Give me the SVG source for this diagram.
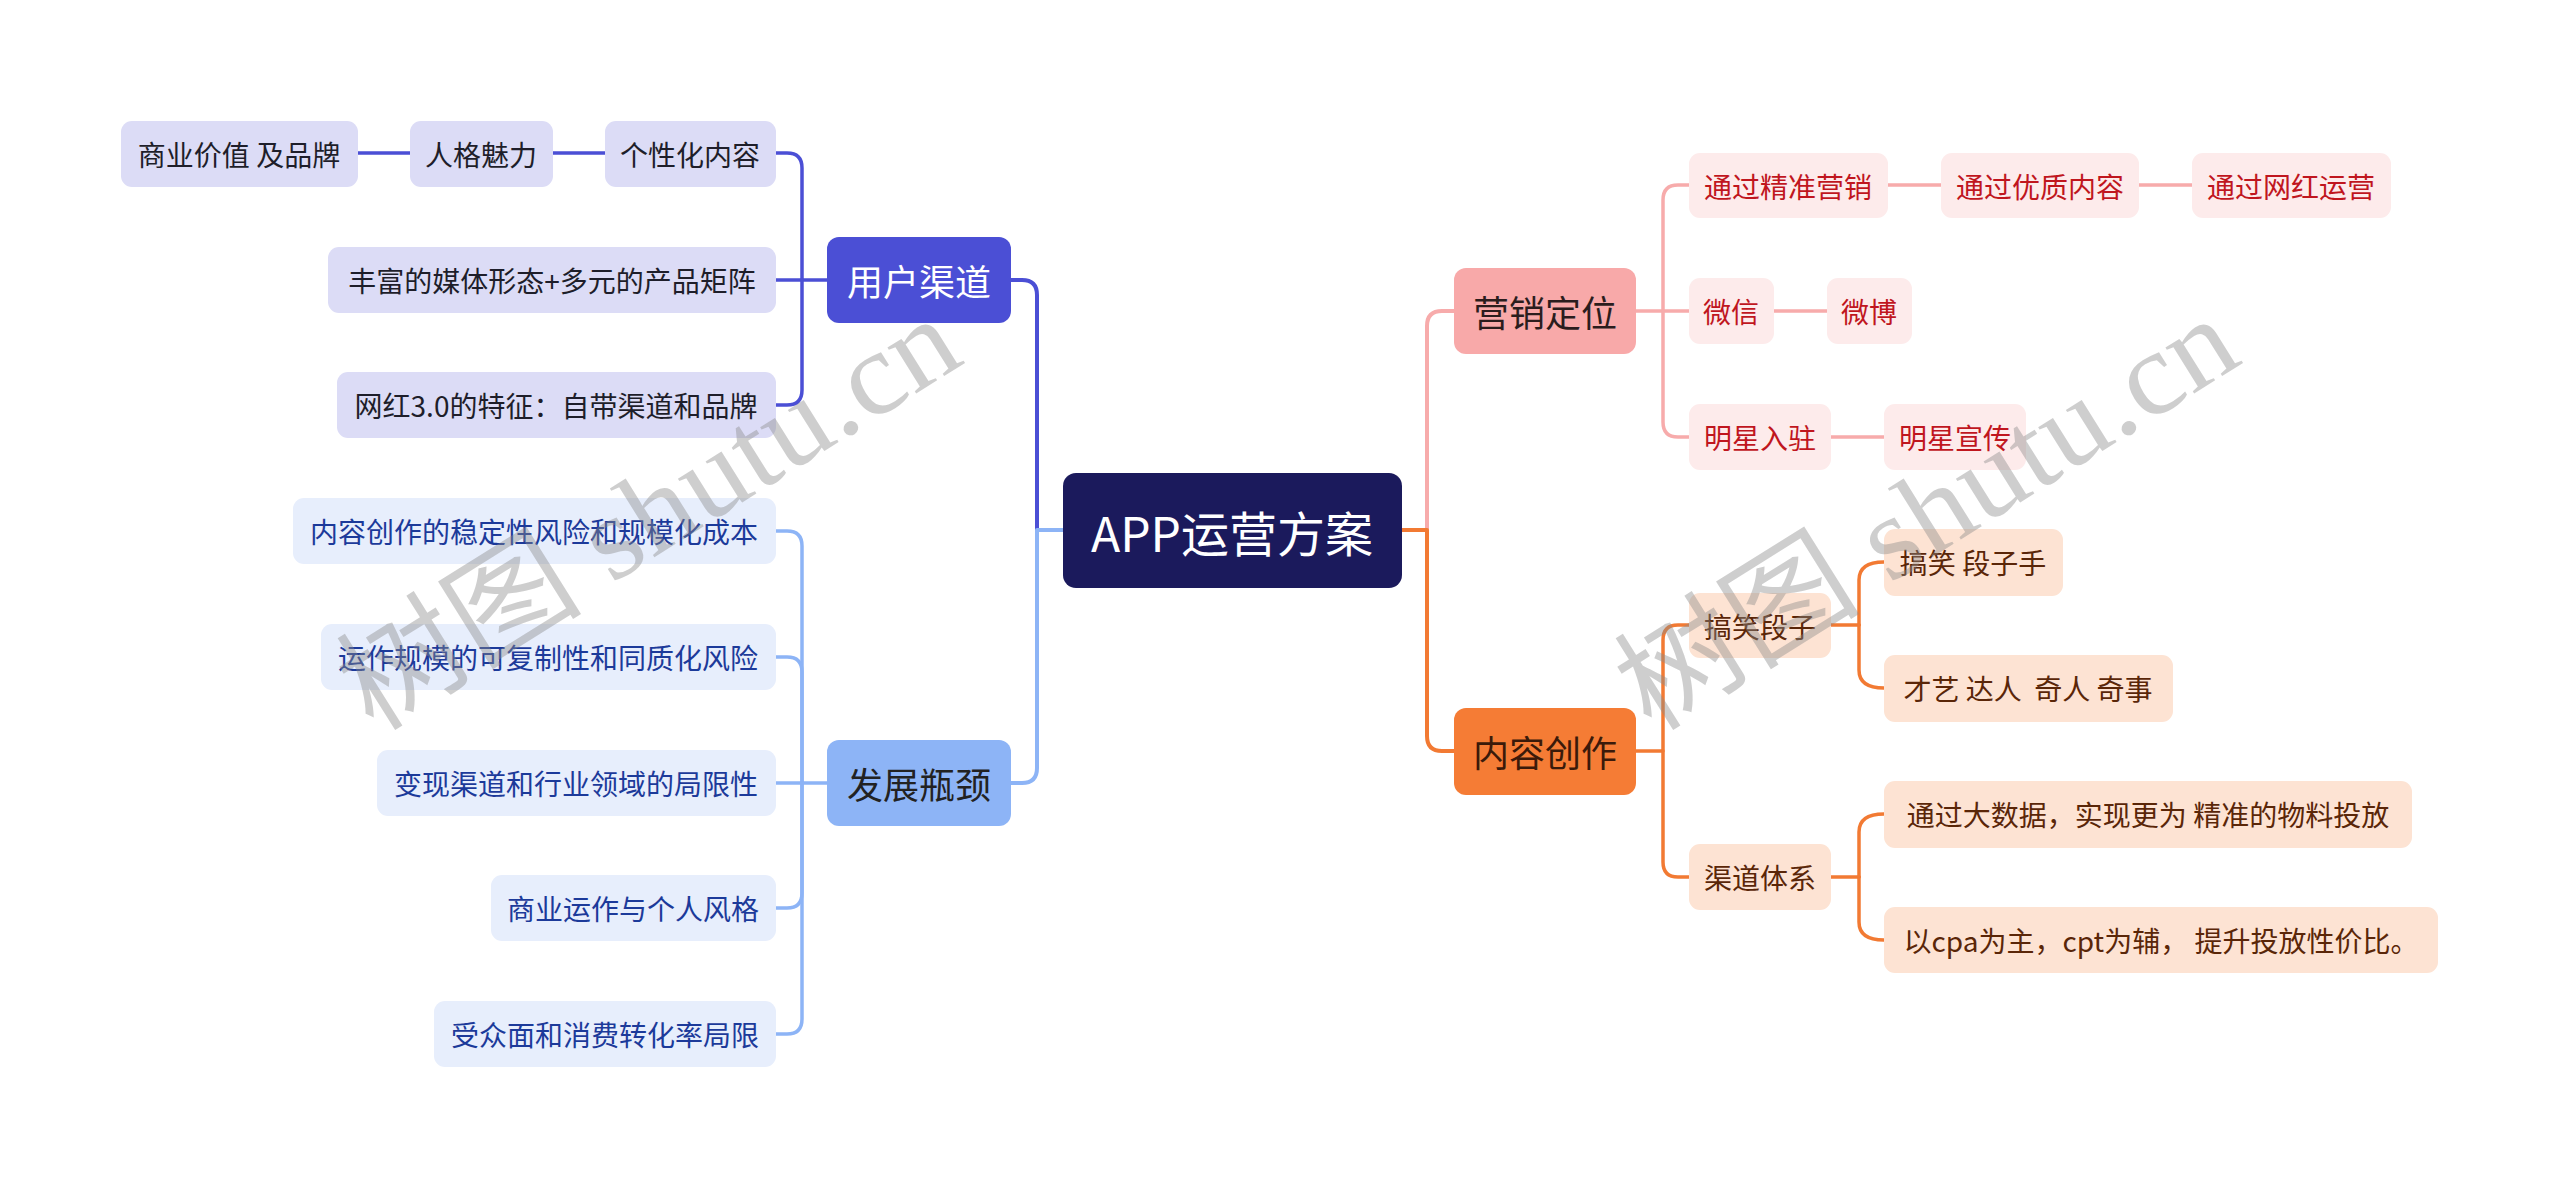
<svg xmlns="http://www.w3.org/2000/svg" width="2560" height="1189" viewBox="0 0 2560 1189">
<style>
text{font-family:"Noto Sans CJK SC","Noto Sans",sans-serif;text-anchor:middle;dominant-baseline:central;white-space:pre}
.c{font-size:28px}
.t{font-size:36px}
.l{fill:none;stroke-linecap:round;stroke-linejoin:round}
.p1 rect{fill:#dcdcf6}.p1 text{fill:#1e1e2a}
.b1 rect{fill:#e7eefc}.b1 text{fill:#1c3a9a}
.r1 rect{fill:#fdebeb}.r1 text{fill:#c0161e}
.o1 rect{fill:#fde3d3}.o1 text{fill:#5a2608}
.wm{font-family:"Liberation Serif","Noto Sans CJK SC",serif;font-size:118px;fill:#8a8a8a;fill-opacity:0.42;text-anchor:middle;dominant-baseline:central}
</style>
<rect width="2560" height="1189" fill="#ffffff"/>
<g id="connectors">
  <path class="l" stroke="#4b4fd5" stroke-width="4" d="M1063 530 H1037 V295 Q1037 280 1022 280 H1011"/>
  <path class="l" stroke="#8db4f6" stroke-width="4" d="M1063 530 H1037 V768 Q1037 783 1022 783 H1011"/>
  <path class="l" stroke="#f7abab" stroke-width="4" d="M1402 530 H1427 V326 Q1427 311 1442 311 H1454"/>
  <path class="l" stroke="#f27a33" stroke-width="4" d="M1402 530 H1427 V736 Q1427 751 1442 751 H1454"/>
  <g stroke="#4b4fd5" stroke-width="3.5" class="l">
    <path d="M827 280 H776"/>
    <path d="M802 280 V168 Q802 153 787 153 H776"/>
    <path d="M802 280 V390 Q802 405 787 405 H776"/>
    <path d="M605 153 H553"/>
    <path d="M410 153 H358"/>
  </g>
  <g stroke="#8db4f6" stroke-width="3.5" class="l">
    <path d="M827 783 H776"/>
    <path d="M802 783 V546 Q802 531 787 531 H776"/>
    <path d="M802 783 V672 Q802 657 787 657 H776"/>
    <path d="M802 783 V893 Q802 908 787 908 H776"/>
    <path d="M802 783 V1019 Q802 1034 787 1034 H776"/>
  </g>
  <g stroke="#f7abab" stroke-width="3.5" class="l">
    <path d="M1636 311 H1689"/>
    <path d="M1663 311 V200 Q1663 185 1678 185 H1689"/>
    <path d="M1663 311 V422 Q1663 437 1678 437 H1689"/>
    <path d="M1888 185 H1941"/>
    <path d="M2139 185 H2192"/>
    <path d="M1774 311 H1827"/>
    <path d="M1831 437 H1884"/>
  </g>
  <g stroke="#f27a33" stroke-width="3.5" class="l">
    <path d="M1636 751 H1663 V640 Q1663 625 1678 625 H1689"/>
    <path d="M1663 751 V862 Q1663 877 1678 877 H1689"/>
    <path d="M1831 625 H1859"/>
    <path d="M1859 625 V580 Q1859 562 1884 562"/>
    <path d="M1859 625 V670 Q1859 688 1884 688"/>
    <path d="M1831 877 H1859"/>
    <path d="M1859 877 V832 Q1859 814 1884 814"/>
    <path d="M1859 877 V922 Q1859 940 1884 940"/>
  </g>
</g>
<g id="root"><rect x="1063" y="473" width="339" height="115" rx="13" fill="#1b1a5c"/><text x="1232" y="531" font-size="48" fill="#ffffff">APP运营方案</text></g>
<g id="yonghuqudao"><rect x="827" y="237" width="184" height="86" rx="12" fill="#4b4fd5"/><text class="t" x="919" y="280" fill="#ffffff">用户渠道</text></g>
<g id="fazhanpingjing"><rect x="827" y="740" width="184" height="86" rx="12" fill="#8db4f6"/><text class="t" x="919" y="783" fill="#222222">发展瓶颈</text></g>
<g id="yingxiaodingwei"><rect x="1454" y="268" width="182" height="86" rx="12" fill="#f8a9a9"/><text class="t" x="1545" y="311" fill="#2b1d1d">营销定位</text></g>
<g id="neirongchuangzuo"><rect x="1454" y="708" width="182" height="87" rx="12" fill="#f57c35"/><text class="t" x="1545" y="751" fill="#3b1a0a">内容创作</text></g>

<g id="gexinghua" class="p1"><rect x="605" y="121" width="171" height="66" rx="11"/><text class="c" x="690" y="154">个性化内容</text></g>
<g id="rengemeili" class="p1"><rect x="410" y="121" width="143" height="66" rx="11"/><text class="c" x="481" y="154">人格魅力</text></g>
<g id="shangyejiazhi" class="p1"><rect x="121" y="121" width="237" height="66" rx="11"/><text class="c" x="239" y="154">商业价值 及品牌</text></g>
<g id="fengfu" class="p1"><rect x="328" y="247" width="448" height="66" rx="11"/><text class="c" x="552" y="280">丰富的媒体形态+多元的产品矩阵</text></g>
<g id="wanghong" class="p1"><rect x="337" y="372" width="439" height="66" rx="11"/><text class="c" x="556" y="405">网红3.0的特征：自带渠道和品牌</text></g>

<g id="pj1" class="b1"><rect x="293" y="498" width="483" height="66" rx="11"/><text class="c" x="534" y="531">内容创作的稳定性风险和规模化成本</text></g>
<g id="pj2" class="b1"><rect x="321" y="624" width="455" height="66" rx="11"/><text class="c" x="548" y="657">运作规模的可复制性和同质化风险</text></g>
<g id="pj3" class="b1"><rect x="377" y="750" width="399" height="66" rx="11"/><text class="c" x="576" y="783">变现渠道和行业领域的局限性</text></g>
<g id="pj4" class="b1"><rect x="491" y="875" width="285" height="66" rx="11"/><text class="c" x="633" y="908">商业运作与个人风格</text></g>
<g id="pj5" class="b1"><rect x="434" y="1001" width="342" height="66" rx="11"/><text class="c" x="605" y="1034">受众面和消费转化率局限</text></g>

<g id="jingzhun" class="r1"><rect x="1689" y="153" width="199" height="65" rx="11"/><text class="c" x="1788" y="186">通过精准营销</text></g>
<g id="youzhi" class="r1"><rect x="1941" y="153" width="198" height="65" rx="11"/><text class="c" x="2040" y="186">通过优质内容</text></g>
<g id="wanghongyunying" class="r1"><rect x="2192" y="153" width="199" height="65" rx="11"/><text class="c" x="2291" y="186">通过网红运营</text></g>
<g id="weixin" class="r1"><rect x="1689" y="278" width="85" height="66" rx="11"/><text class="c" x="1731" y="311">微信</text></g>
<g id="weibo" class="r1"><rect x="1827" y="278" width="85" height="66" rx="11"/><text class="c" x="1869" y="311">微博</text></g>
<g id="mingxingruzhu" class="r1"><rect x="1689" y="404" width="142" height="66" rx="11"/><text class="c" x="1760" y="437">明星入驻</text></g>
<g id="mingxingxuanchuan" class="r1"><rect x="1884" y="404" width="142" height="66" rx="11"/><text class="c" x="1955" y="437">明星宣传</text></g>

<g id="gaoxiaoduanzi" class="o1"><rect x="1689" y="593" width="142" height="65" rx="11"/><text class="c" x="1760" y="626">搞笑段子</text></g>
<g id="qudaotixi" class="o1"><rect x="1689" y="844" width="142" height="66" rx="11"/><text class="c" x="1760" y="877">渠道体系</text></g>
<g id="duanzishou" class="o1"><rect x="1884" y="529" width="179" height="67" rx="11"/><text class="c" x="1973" y="562">搞笑 段子手</text></g>
<g id="caiyi" class="o1"><rect x="1884" y="655" width="289" height="67" rx="11"/><text class="c" x="2028" y="688" xml:space="preserve">才艺 达人  奇人 奇事</text></g>
<g id="dashuju" class="o1"><rect x="1884" y="781" width="528" height="67" rx="11"/><text class="c" x="2148" y="814">通过大数据，实现更为 精准的物料投放</text></g>
<g id="cpa" class="o1"><rect x="1884" y="907" width="554" height="66" rx="11"/><text class="c" x="2161" y="940" xml:space="preserve">以cpa为主，cpt为辅， 提升投放性价比。</text></g>

<g id="watermark">
  <text class="wm" x="649" y="514" transform="rotate(-32 649 514)" textLength="700" lengthAdjust="spacingAndGlyphs">树图 shutu.cn</text>
  <text class="wm" x="1927" y="514" transform="rotate(-32 1927 514)" textLength="700" lengthAdjust="spacingAndGlyphs">树图 shutu.cn</text>
</g>
</svg>
